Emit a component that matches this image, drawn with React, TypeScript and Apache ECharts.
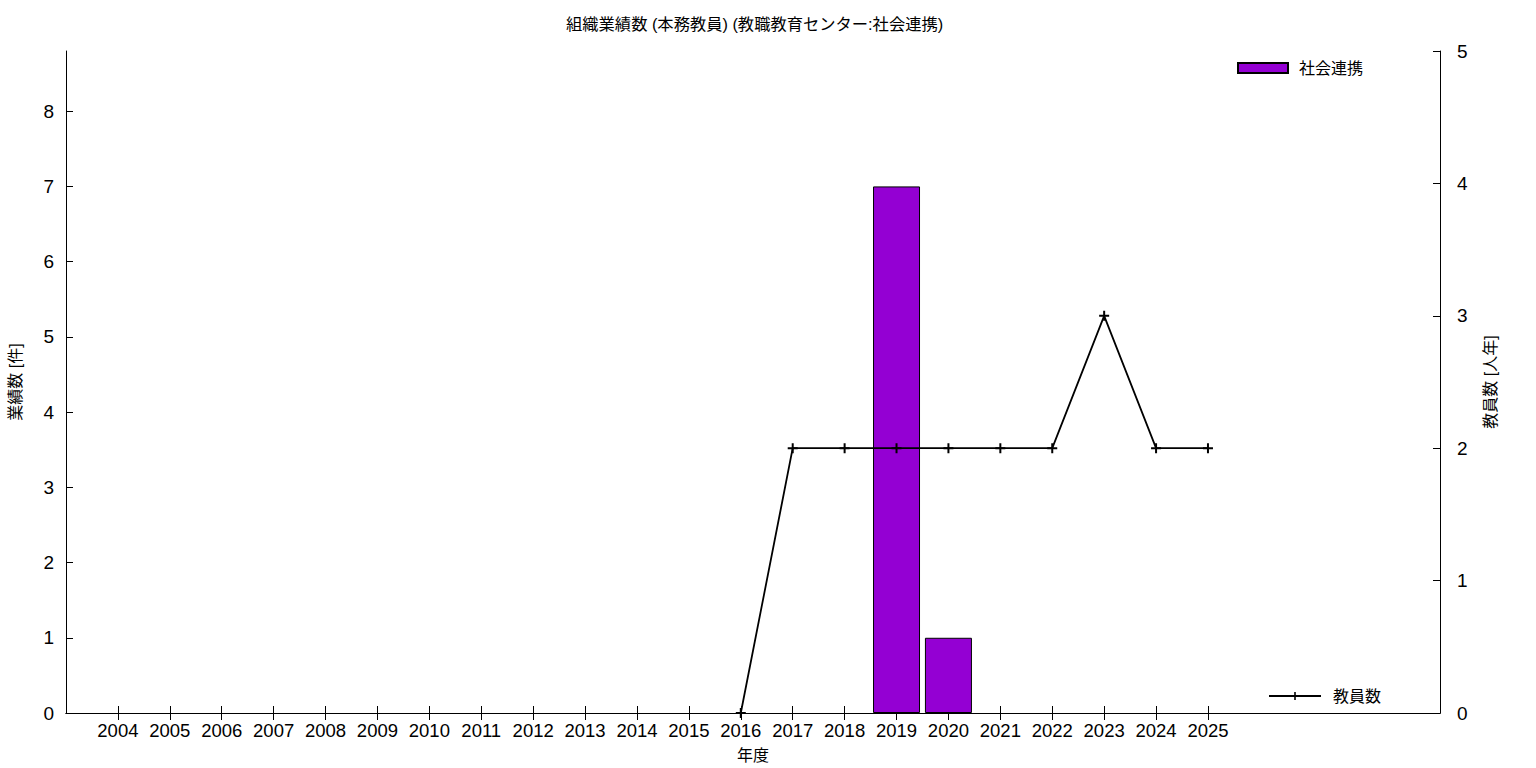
import React, { useEffect, useRef } from "react";
import * as echarts from "echarts";

const years = [2004, 2005, 2006, 2007, 2008, 2009, 2010, 2011, 2012, 2013, 2014, 2015, 2016, 2017, 2018, 2019, 2020, 2021, 2022, 2023, 2024, 2025];
const barYears = [2019, 2020];
const barValues = [7, 1];
const staffYears = [2016, 2017, 2018, 2019, 2020, 2021, 2022, 2023, 2024, 2025];
const staffValues = [0, 2, 2, 2, 2, 2, 2, 3, 2, 2];
const leftTicks = [0, 1, 2, 3, 4, 5, 6, 7, 8];
const rightTicks = [0, 1, 2, 3, 4, 5];

const FONT = '"Liberation Sans", "Noto Sans CJK JP", sans-serif';
const PLUS = "path://M4,0H6V4H10V6H6V10H4V6H0V4H4Z";

export default function App() {
  const ref = useRef<HTMLDivElement>(null);
  useEffect(() => {
    document.body.style.margin = "0";
    const chart = echarts.init(ref.current!, null, { renderer: "svg" });
    const axisLine = { show: true, lineStyle: { color: "#000", width: 1 } };
    chart.setOption({
      animation: false,
      backgroundColor: "#fff",
      textStyle: { fontFamily: FONT, color: "#000" },
      title: {
        text: "組織業績数 (本務教員) (教職教育センター:社会連携)",
        left: 566,
        top: 16,
        padding: 0,
        textStyle: { fontFamily: FONT, fontSize: 16.3, fontWeight: "normal", color: "#000" },
      },
      grid: { left: 66, right: 96, top: 51, bottom: 55, outerBoundsMode: "none", containLabel: false },
      legend: [
        {
          data: [{ name: "社会連携", icon: "rect" }],
          left: 1237,
          top: 60,
          padding: 0,
          itemWidth: 50,
          itemHeight: 10,
          textStyle: { fontFamily: FONT, fontSize: 16, color: "#000", padding: [0, 0, 0, 6] },
        },
        {
          data: ["教員数"],
          left: 1268,
          top: 688,
          padding: 0,
          itemWidth: 52,
          itemHeight: 10,
          textStyle: { fontFamily: FONT, fontSize: 16, color: "#000", padding: [0, 0, 0, 7] },
        },
      ],
      xAxis: [
        {
          type: "value",
          min: 2003,
          max: 2029.47,
          interval: 1,
          position: "bottom",
          name: "年度",
          nameLocation: "middle",
          nameGap: 34,
          nameTextStyle: { fontFamily: FONT, fontSize: 16, color: "#000" },
          axisLine,
          splitLine: { show: false },
          axisTick: { show: true, inside: true, length: 7, customValues: years, lineStyle: { color: "#000" } },
          axisLabel: { customValues: years, margin: 8, fontFamily: FONT, fontSize: 18.5, color: "#000", formatter: (v: number) => String(v) },
        },
        {
          type: "value",
          min: 2003,
          max: 2029.47,
          interval: 1,
          position: "top",
          axisLine,
          splitLine: { show: false },
          axisTick: { show: true, inside: true, length: 7, customValues: years, lineStyle: { color: "#000" } },
          axisLabel: { show: false },
        },
      ],
      yAxis: [
        {
          type: "value",
          min: 0,
          max: 8.8,
          interval: 1,
          position: "left",
          name: "業績数 [件]",
          nameLocation: "middle",
          nameGap: 43,
          nameTextStyle: { fontFamily: FONT, fontSize: 16, color: "#000" },
          axisLine,
          splitLine: { show: false },
          axisTick: { show: true, inside: true, length: 7, customValues: leftTicks, lineStyle: { color: "#000" } },
          axisLabel: { customValues: leftTicks, margin: 12, fontFamily: FONT, fontSize: 19, color: "#000" },
        },
        {
          type: "value",
          min: 0,
          max: 5,
          interval: 1,
          position: "right",
          name: "教員数 [人年]",
          nameLocation: "middle",
          nameRotate: 90,
          nameGap: 42,
          nameTextStyle: { fontFamily: FONT, fontSize: 16, color: "#000" },
          axisLine,
          splitLine: { show: false },
          axisTick: { show: true, inside: true, length: 7, customValues: rightTicks, lineStyle: { color: "#000" } },
          axisLabel: { customValues: rightTicks, margin: 17, fontFamily: FONT, fontSize: 19, color: "#000" },
        },
      ],
      series: [
        {
          name: "社会連携",
          type: "bar",
          xAxisIndex: 0,
          yAxisIndex: 0,
          barWidth: 47,
          data: barYears.map((y, i) => [y, barValues[i]]),
          itemStyle: { color: "#9400D3", borderColor: "#000", borderWidth: 1 },
        },
        {
          name: "教員数",
          type: "line",
          xAxisIndex: 0,
          yAxisIndex: 1,
          data: staffYears.map((y, i) => [y, staffValues[i]]),
          symbol: PLUS,
          symbolSize: 10,
          showAllSymbol: true,
          lineStyle: { color: "#000", width: 1.8 },
          itemStyle: { color: "#000" },
        },
      ],
    });
    return () => chart.dispose();
  }, []);
  return <div ref={ref} style={{ width: 1536, height: 768 }} />;
}
